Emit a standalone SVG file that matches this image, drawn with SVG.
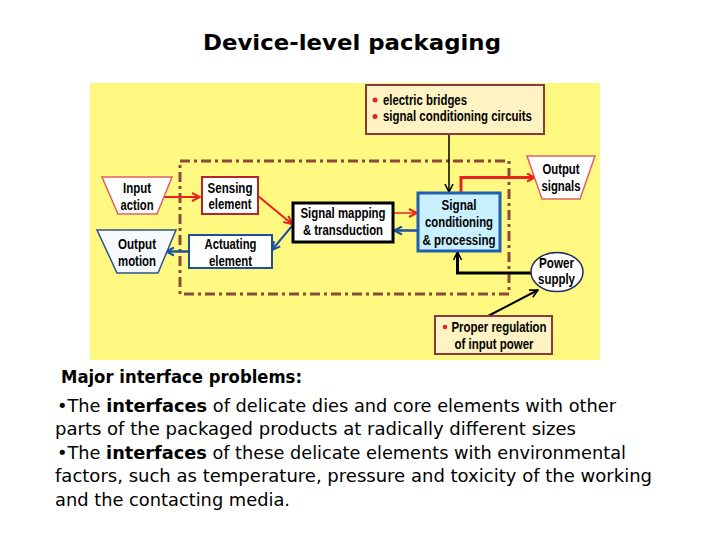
<svg xmlns="http://www.w3.org/2000/svg" width="720" height="540" viewBox="0 0 720 540">
<defs>
<style>
.lbl{font-family:"Liberation Sans",Arial,sans-serif;font-weight:bold;font-size:14px;fill:#000;text-anchor:middle}
.lbll{font-family:"Liberation Sans",Arial,sans-serif;font-weight:bold;font-size:14px;fill:#000}
.body{font-family:"DejaVu Sans",Verdana,sans-serif;font-size:17px;fill:#000}
.cream{fill:#FFF3C4;stroke:#8B3A3A;stroke-width:2}
.red{stroke:#E8231E;fill:none}
.blue{stroke:#1F4E9E;fill:none}
.blk{stroke:#000;fill:none}
</style>
<marker id="ar" viewBox="0 0 10 10" refX="9" refY="5" markerWidth="10" markerHeight="10" markerUnits="userSpaceOnUse" orient="auto"><path d="M1,1 L9,5 L1,9" fill="none" stroke="#E8231E" stroke-width="2"/></marker>
<marker id="ab" viewBox="0 0 10 10" refX="9" refY="5" markerWidth="10" markerHeight="10" markerUnits="userSpaceOnUse" orient="auto"><path d="M1,1 L9,5 L1,9" fill="none" stroke="#1F4E9E" stroke-width="2"/></marker>
<marker id="ak" viewBox="0 0 10 10" refX="9" refY="5" markerWidth="10" markerHeight="10" markerUnits="userSpaceOnUse" orient="auto"><path d="M1,1 L9,5 L1,9" fill="none" stroke="#000" stroke-width="1.6"/></marker>
</defs>
<rect width="720" height="540" fill="#fff"/>
<text x="352" y="50" text-anchor="middle" font-family="'DejaVu Sans',Verdana,sans-serif" font-weight="bold" font-size="21" textLength="298" lengthAdjust="spacingAndGlyphs">Device-level packaging</text>

<rect x="90" y="83" width="510" height="277" fill="#FFF982"/>
<rect id="boundary" x="180" y="161" width="329" height="133" fill="none" stroke="#8B4A3C" stroke-width="3" stroke-dasharray="10 4 3 4"/>

<g id="connectors">
<line class="red" x1="162" y1="197" x2="200" y2="197" stroke-width="2" marker-end="url(#ar)"/>
<line class="red" x1="258" y1="196" x2="292" y2="224" stroke-width="2" marker-end="url(#ar)"/>
<line class="blue" x1="292" y1="226" x2="272" y2="250" stroke-width="2" marker-end="url(#ab)"/>
<line class="blue" x1="189" y1="251.5" x2="166" y2="251.5" stroke-width="2.5" marker-end="url(#ab)"/>
<line class="red" x1="393" y1="213" x2="417" y2="213" stroke-width="1.5" marker-end="url(#ar)"/>
<line class="blue" x1="418" y1="230.5" x2="394" y2="230.5" stroke-width="2.5" marker-end="url(#ab)"/>
<line class="blk" x1="449" y1="134" x2="449" y2="192" stroke-width="1.5" marker-end="url(#ak)"/>
<polyline class="red" points="461,192 461,177.5 535,177.5" stroke-width="3" marker-end="url(#ar)"/>
<polyline class="blk" points="531,273 457.5,273 457.5,252" stroke-width="3" marker-end="url(#ak)"/>
<line class="blk" x1="488" y1="316" x2="538" y2="290" stroke-width="2" marker-end="url(#ak)"/>
</g>

<g id="bridges">
<rect class="cream" x="366" y="85" width="178" height="49"/>
<circle cx="375" cy="100" r="2.5" fill="#E8231E"/>
<circle cx="375" cy="116.5" r="2.5" fill="#E8231E"/>
<text class="lbll" x="383" y="104.5" textLength="84" lengthAdjust="spacingAndGlyphs">electric bridges</text>
<text class="lbll" x="383" y="121" textLength="149" lengthAdjust="spacingAndGlyphs">signal conditioning circuits</text>
</g>

<g id="input-action">
<polygon points="102,177 172,177 157,214 118,214" fill="#fff" stroke="#E06060" stroke-width="1.5"/>
<text class="lbl" x="137" y="193" textLength="28" lengthAdjust="spacingAndGlyphs">Input</text>
<text class="lbl" x="137" y="210" textLength="33" lengthAdjust="spacingAndGlyphs">action</text>
</g>

<g id="sensing">
<rect x="202" y="177" width="56" height="37" fill="#fff" stroke="#B5262A" stroke-width="2"/>
<text class="lbl" x="230" y="193" textLength="45" lengthAdjust="spacingAndGlyphs">Sensing</text>
<text class="lbl" x="230" y="209" textLength="43" lengthAdjust="spacingAndGlyphs">element</text>
</g>

<g id="output-motion">
<polygon points="97,230 176,230 158,273 117,273" fill="#F6F9FF" stroke="#2F4F8F" stroke-width="1.5"/>
<text class="lbl" x="137" y="249" textLength="38" lengthAdjust="spacingAndGlyphs">Output</text>
<text class="lbl" x="137" y="266" textLength="38" lengthAdjust="spacingAndGlyphs">motion</text>
</g>

<g id="actuating">
<rect x="189" y="235" width="83" height="33" fill="#fff" stroke="#1F4E9E" stroke-width="2"/>
<text class="lbl" x="230.5" y="249" textLength="52" lengthAdjust="spacingAndGlyphs">Actuating</text>
<text class="lbl" x="230.5" y="266" textLength="43" lengthAdjust="spacingAndGlyphs">element</text>
</g>

<g id="mapping">
<rect x="293" y="203" width="100" height="39" fill="#fff" stroke="#000" stroke-width="3"/>
<text class="lbl" x="343" y="217.5" textLength="85" lengthAdjust="spacingAndGlyphs">Signal mapping</text>
<text class="lbl" x="343" y="235" textLength="80" lengthAdjust="spacingAndGlyphs">&amp; transduction</text>
</g>

<g id="conditioning">
<rect x="418" y="193" width="82" height="58" fill="#C8F0FF" stroke="#1F5FB0" stroke-width="3"/>
<text class="lbl" x="459" y="210" textLength="35" lengthAdjust="spacingAndGlyphs">Signal</text>
<text class="lbl" x="459" y="227" textLength="68" lengthAdjust="spacingAndGlyphs">conditioning</text>
<text class="lbl" x="459" y="244.5" textLength="73" lengthAdjust="spacingAndGlyphs">&amp; processing</text>
</g>

<g id="output-signals">
<polygon points="527,156 595,156 580,199 542,199" fill="#fff" stroke="#E06060" stroke-width="1.5"/>
<text class="lbl" x="561" y="174" textLength="37" lengthAdjust="spacingAndGlyphs">Output</text>
<text class="lbl" x="561" y="190.5" textLength="39" lengthAdjust="spacingAndGlyphs">signals</text>
</g>

<g id="power">
<ellipse cx="557" cy="272" rx="26" ry="19.5" fill="#fff" stroke="#1F3060" stroke-width="1.5"/>
<text class="lbl" x="556.5" y="268" textLength="35" lengthAdjust="spacingAndGlyphs">Power</text>
<text class="lbl" x="556.5" y="284" textLength="37" lengthAdjust="spacingAndGlyphs">supply</text>
</g>

<g id="regulation">
<rect class="cream" x="435" y="316" width="117" height="38"/>
<circle cx="445" cy="327" r="2.3" fill="#E8231E"/>
<text class="lbll" x="451.5" y="331.5" textLength="95" lengthAdjust="spacingAndGlyphs">Proper regulation</text>
<text class="lbll" x="454.5" y="348.5" textLength="79" lengthAdjust="spacingAndGlyphs">of input power</text>
</g>

<g id="notes">
<text class="body" x="61" y="383" font-weight="bold" font-size="16.5" textLength="241" lengthAdjust="spacingAndGlyphs">Major interface problems:</text>
<text class="body" x="57" y="411.5" textLength="559" lengthAdjust="spacingAndGlyphs">•The <tspan font-weight="bold">interfaces</tspan> of delicate dies and core elements with other</text>
<text class="body" x="55" y="435" textLength="521" lengthAdjust="spacingAndGlyphs">parts of the packaged products at radically different sizes</text>
<text class="body" x="57" y="458.5" textLength="569" lengthAdjust="spacingAndGlyphs">•The <tspan font-weight="bold">interfaces</tspan> of these delicate elements with environmental</text>
<text class="body" x="55" y="482" textLength="597" lengthAdjust="spacingAndGlyphs">factors, such as temperature, pressure and toxicity of the working</text>
<text class="body" x="55" y="505.5" textLength="235" lengthAdjust="spacingAndGlyphs">and the contacting media.</text>
</g>
</svg>
